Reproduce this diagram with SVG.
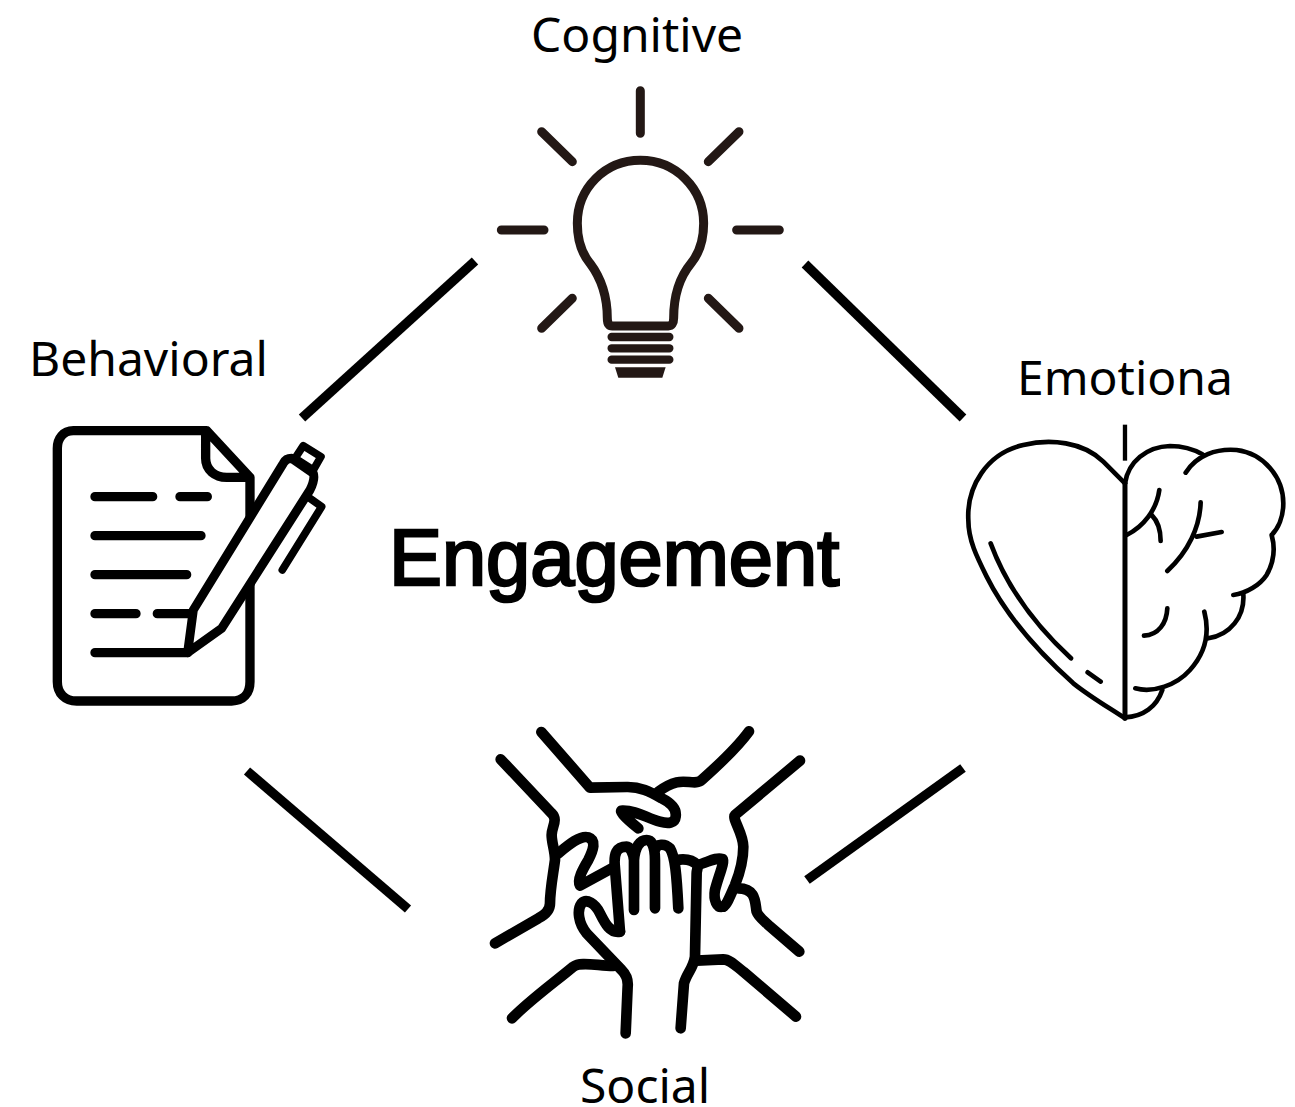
<svg xmlns="http://www.w3.org/2000/svg" width="1295" height="1107" viewBox="0 0 1295 1107">
<style>
.lbl{font-family:"Noto Sans","Open Sans",sans-serif;font-size:48px;fill:#000}
.title{font-family:"Liberation Sans",Arial,sans-serif;font-size:79.4px;fill:#000;stroke:#000;stroke-width:2.6}
.conn{stroke:#000;stroke-width:9.5;fill:none}
.s{fill:none;stroke:#000;stroke-linecap:round;stroke-linejoin:round}
.b{fill:none;stroke:#231815;stroke-linecap:round;stroke-linejoin:round}
</style>
<rect width="1295" height="1107" fill="#fff"/>
<g id="connectors">
<path class="conn" d="M475,261L302,418"/>
<path class="conn" d="M805,264L963,418"/>
<path class="conn" d="M247,771L408,909"/>
<path class="conn" d="M963,768L807,880"/>
</g>
<g id="cognitive">
<text class="lbl" x="531" y="52">Cognitive</text>
<g transform="translate(490,80) scale(.3333)">
<path class="b" stroke-width="27" d="M451,32V160M34,450H162M740,450H868M155,155L247,245M747,155L655,245M247,655L155,745M655,655L747,745"/>
<path class="b" stroke-width="27" d="M352,715C352,640 330,590 300,550C275,520 262,480 262,430C262,325 345,241 451,241C557,241 641,325 641,430C641,480 628,520 603,550C570,590 551,640 551,715C551,730 545,738 535,738H367C357,738 352,730 352,715Z"/>
<path class="b" stroke-width="25" d="M365,771H538M365,805H538M365,839H538"/>
<path fill="#231815" d="M375,862H527L517,893H385Z"/>
</g>
</g>
<g id="behavioral">
<text class="lbl" x="29" y="376">Behavioral</text>
<g transform="translate(40,415) scale(.3333)">
<path class="s" stroke-width="28" d="M500,47H100C70,47 52,70 52,100V800C52,835 75,858 110,858H575C610,858 630,835 630,800V187L500,47M497,50V130C497,165 525,187 560,187H630"/>
<path class="s" stroke-width="28" d="M165,245H338M420,245H502M165,362H483M165,479H440M165,596H288M352,596H458M165,713H443"/>
<path class="s" style="fill:#fff" stroke-width="27" d="M443,713L460,585L730,145C735,135 745,130 755,130L820,175C825,190 820,205 810,225L545,640Z"/>
<path class="s" stroke-width="23" d="M790,92L843,125L820,165L765,130Z"/>
<path class="s" stroke-width="23" d="M810,250L845,275L727,465"/>
</g>
</g>
<g id="emotional">
<text class="lbl" x="1017" y="395">Emotiona</text>
<g transform="translate(950,420) scale(.3333)">
<path fill="none" stroke="#000" stroke-width="13" d="M525,14V122"/>
<path class="s" stroke-width="14" d="M525,190L460,125C400,65 300,55 220,75C110,100 50,200 55,300C55,360 80,410 110,470C170,590 270,700 370,790C420,830 480,865 525,895"/>
<path class="s" stroke-width="15" d="M525,190V895"/>
<path class="s" stroke-width="14" d="M122,370C170,500 260,620 363,715M413,757L452,785"/>
<path class="s" stroke-width="14" d="M525,190C535,125 590,80 660,78C700,78 735,90 757,103M707,158C740,105 800,85 860,90C940,100 1000,170 1000,250C1000,290 985,325 965,345C975,380 975,420 950,465C930,495 890,520 850,525M880,522C885,590 840,645 775,655M763,575C780,640 765,700 720,750C680,795 610,820 556,805M637,810C620,860 580,890 525,892M652,565C650,610 625,645 582,647M628,210C620,270 580,320 530,345M605,285C625,305 632,335 632,363M752,247C750,320 715,395 652,453M740,350L815,336"/>
</g>
</g>
<g id="social">
<text class="lbl" x="580" y="1103">Social</text>
<g transform="translate(480,720) scale(.3333)">
<path class="s" stroke-width="32" d="M184,36L330,203L440,201C480,200 510,215 545,235C575,250 590,270 587,290C585,310 565,312 540,305C500,295 470,270 425,272C420,272 425,285 475,325"/>
<path class="s" stroke-width="32" d="M807,34C770,85 710,140 665,180C650,195 620,180 590,187C570,192 555,200 535,215"/>
<path class="s" stroke-width="32" d="M62,118L215,280C235,300 215,320 215,345C215,370 225,390 225,420C220,460 210,510 210,550C210,570 195,585 175,595L45,670"/>
<path class="s" stroke-width="32" d="M235,400C265,375 300,345 325,352C350,360 340,390 325,420C310,445 290,480 300,497L395,445"/>
<path class="s" stroke-width="32" d="M420,635L405,445C400,400 410,380 440,380C450,380 460,400 462,420V570M462,420C465,380 480,360 500,360C515,360 525,380 525,420V565M525,390C530,370 555,370 570,385C585,410 590,460 595,565M590,420C620,415 640,422 652,435C655,445 650,450 650,460L645,710C640,745 620,760 612,790L602,925"/>
<path class="s" stroke-width="32" d="M420,635C390,640 375,610 360,580C345,550 320,535 305,550C290,570 295,610 320,640L425,750C440,765 445,780 443,800L437,940"/>
<path class="s" stroke-width="32" d="M652,435C680,430 705,410 728,417C735,425 715,470 705,510C700,540 710,565 730,560"/>
<path class="s" stroke-width="32" d="M960,122L765,285C755,295 790,340 790,380C790,420 775,470 765,495C750,530 740,555 730,560"/>
<path class="s" stroke-width="32" d="M775,505C830,505 825,550 830,575C835,590 850,600 865,615L958,695"/>
<path class="s" stroke-width="32" d="M650,722L730,718C750,718 770,740 790,755L948,890"/>
<path class="s" stroke-width="32" d="M96,895C150,840 220,790 280,740C300,725 340,735 400,738"/>
</g>
</g>
<text class="title" x="389" y="585">Engagement</text>
</svg>
